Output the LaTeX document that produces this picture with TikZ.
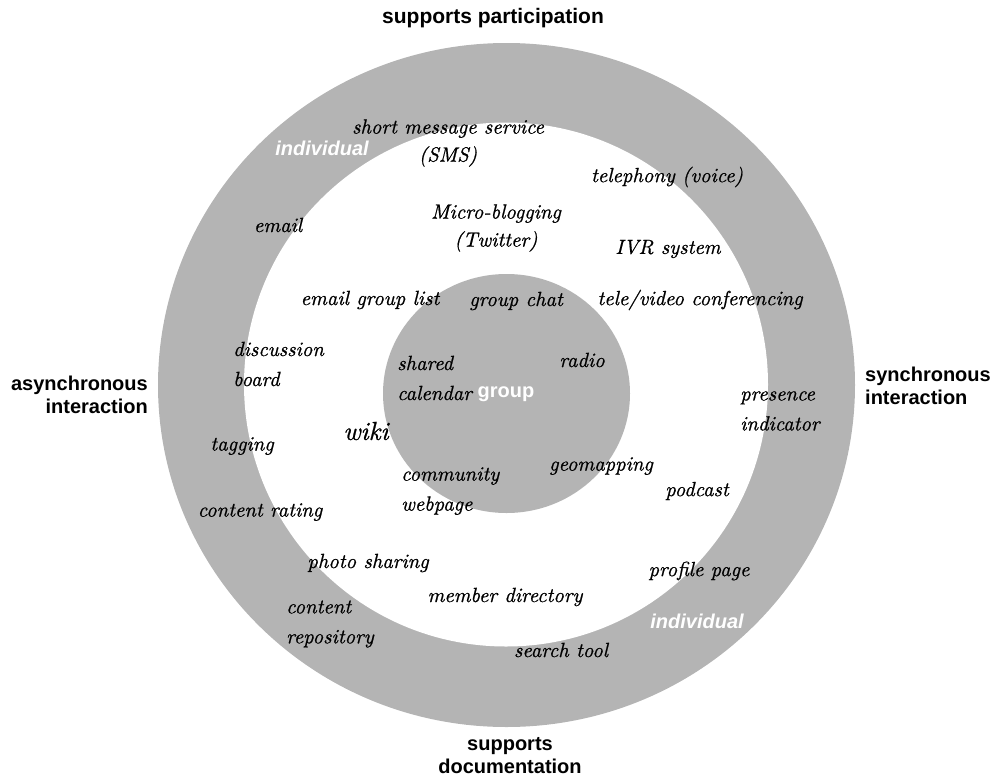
\documentclass[tikz,border=0pt]{standalone}
\usepackage{fontspec}
\newfontfamily\arialf{Liberation Sans}
\newfontfamily\handf{lmroman10-italic}[Extension=.otf, FakeBold=0.8]
\definecolor{bandgray}{RGB}{180,180,180}
\tikzset{
  hand/.style={font=\handf\fontsize{20.5}{30}\selectfont, inner sep=0pt},
  handtight/.style={font=\handf\fontsize{20.5}{28}\selectfont, inner sep=0pt},
  handbig/.style={font=\handf\fontsize{26}{30}\selectfont, inner sep=0pt},
  axislabel/.style={font=\arialf\bfseries\fontsize{20}{23}\selectfont, inner sep=0pt},
  ringlabel/.style={font=\arialf\bfseries\itshape\fontsize{20}{23}\selectfont, text=white, inner sep=0pt},
  grouplabel/.style={font=\arialf\bfseries\fontsize{20}{23}\selectfont, text=white, inner sep=0pt},
}
\begin{document}
\begin{tikzpicture}[x=1pt,y=-1pt]
\useasboundingbox (0,0) rectangle (994,777);
% rings
\fill[bandgray] (506.5,385) ellipse [x radius=348.5, y radius=342];
\fill[white] (506,384.5) circle [radius=262];
\fill[bandgray] (506.5,393.5) ellipse [x radius=123.5, y radius=119.5];

% axis labels
\node[axislabel, font=\arialf\bfseries\fontsize{21}{23}\selectfont, align=center] (top) at (493,18) {supports participation};
\node[axislabel, align=center] (bottom) at (510,756) {supports\\documentation};
\node[axislabel, align=right, anchor=east] (left) at (148,395) {asynchronous\\interaction};
\node[axislabel, align=left, anchor=west] (right) at (865,386) {synchronous\\interaction};

% ring labels
\node[ringlabel] (indtop) at (322,148) {individual};
\node[ringlabel] (indbot) at (697,621) {individual};
\node[grouplabel] (grp) at (506,394) {group};

% tools
\node[handtight, align=center] (sms) at (448,143) {short message service\\(SMS)};
\node[hand] (tel) at (667,177) {telephony (voice)};
\node[hand] (email) at (278,225) {email};
\node[handtight, align=center] (micro) at (496,228) {Micro-blogging\\(Twitter)};
\node[hand] (ivr) at (668,249) {IVR system};
\node[hand] (egl) at (370,300) {email group list};
\node[hand] (gchat) at (516,301) {group chat};
\node[hand] (tele) at (700,300) {tele/video conferencing};
\node[hand, align=left, anchor=west] (disc) at (233,364) {discussion\\board};
\node[hand, align=left, anchor=west] (cal) at (397,378) {shared\\calendar};
\node[hand] (radio) at (582,360) {radio};
\node[hand, align=left, anchor=west] (pres) at (740,411) {presence\\indicator};
\node[hand] (tag) at (242,446) {tagging};
\node[handbig] (wiki) at (366,431) {wiki};
\node[hand, align=left, anchor=west] (comm) at (401,491) {community\\webpage};
\node[hand] (geo) at (601,466) {geomapping};
\node[hand] (pod) at (697,491) {podcast};
\node[hand] (rating) at (260,512) {content rating};
\node[hand] (photo) at (368,563) {photo sharing};
\node[hand] (profile) at (699,571) {profile page};
\node[hand] (member) at (505,597) {member directory};
\node[hand, align=left, anchor=west] (repo) at (286,624) {content\\repository};
\node[hand] (search) at (561,650) {search tool};
\end{tikzpicture}
\end{document}
